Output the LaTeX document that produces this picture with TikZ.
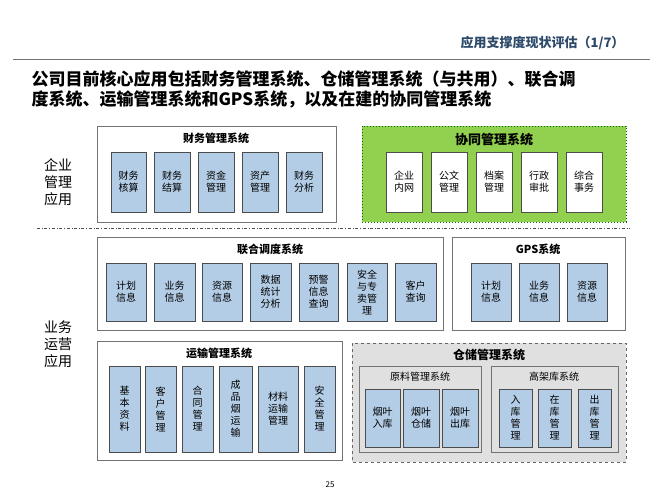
\documentclass[tikz,border=0pt]{standalone}
\usepackage{fontspec}
\setmainfont{Noto Sans CJK SC}
\begin{document}
\begin{tikzpicture}[x=1pt,y=-1pt,
 sub/.style={draw=black!70,fill=blue!25!cyan!15!white,fill=sb,line width=0.8pt,align=center,inner sep=0pt,font=\fontsize{10}{12}\selectfont},
 wsub/.style={draw=black!70,fill=white,line width=0.8pt,align=center,inner sep=0pt,font=\fontsize{10}{12}\selectfont},
 grp/.style={draw=black!55,line width=0.8pt,fill=white},
 ttl/.style={font=\bfseries\fontsize{11}{13}\selectfont},
 side/.style={align=center,font=\fontsize{14}{17}\selectfont}]
\definecolor{sb}{HTML}{B4CDE6}
\definecolor{hd}{HTML}{2E4A6B}
\definecolor{gg}{HTML}{92D050}
\useasboundingbox (0,0) rectangle (660,495);
\fill[white] (0,0) rectangle (660,495);
\node[anchor=east,text=hd,font=\itshape\bfseries\fontsize{13}{15}\selectfont] (hdr) at (628,43) {应用支撑度现状评估（1/7）};
\draw[black!55,line width=1pt] (13,59) -- (650,59);
\node[anchor=west,align=left,font=\bfseries\fontsize{17}{20}\selectfont] (title) at (28,89) {公司目前核心应用包括财务管理系统、仓储管理系统（与共用）、联合调\\度系统、运输管理系统和GPS系统，以及在建的协同管理系统};
\node[side] (l1) at (58,182) {企业\\管理\\应用};
\node[side] (l2) at (58,344) {业务\\运营\\应用};
\draw[black!70,dash dot,line width=1pt] (37,228) -- (630,228);
% finance
\draw[grp] (97,126) rectangle (336,222);
\node[ttl] (t1) at (216,138) {财务管理系统};
\foreach \a/\b/\t in {111/146/财务\\核算,154/190/财务\\结算,198/234/资金\\管理,242/278/资产\\管理,286/322/财务\\分析}
 \node[sub,minimum width=\b-\a,minimum height=60] at ({(\a+\b)/2},182) {\t};
% green
\draw[draw=green!40!black,dotted,line width=1pt,fill=gg] (362,126) rectangle (626,222);
\node[ttl,font=\bfseries\fontsize{13}{15}\selectfont] (t2) at (494,140) {协同管理系统};
\foreach \a/\b/\t in {386/422/企业\\内网,431/467/公文\\管理,476/512/档案\\管理,521/557/行政\\审批,566/602/综合\\事务}
 \node[wsub,minimum width=\b-\a,minimum height=60] at ({(\a+\b)/2},182) {\t};
% lianhe
\draw[grp] (97,237) rectangle (443,330);
\node[ttl] (t3) at (270,249) {联合调度系统};
\foreach \a/\b/\t in {106/146/计划\\信息,154/195/业务\\信息,202/242/资源\\信息,250/291/数据\\统计\\分析,299/338/预警\\信息\\查询,347/387/安全\\与专\\卖管\\理,395/436/客户\\查询}
 \node[sub,minimum width=\b-\a,minimum height=58] at ({(\a+\b)/2},292) {\t};
% GPS
\draw[grp] (452,237) rectangle (625,330);
\node[ttl] (t4) at (538,249) {GPS系统};
\foreach \a/\b/\t in {471/511/计划\\信息,519/559/业务\\信息,567/607/资源\\信息}
 \node[sub,minimum width=\b-\a,minimum height=58] at ({(\a+\b)/2},292) {\t};
% yunshu
\draw[grp] (97,341) rectangle (342,460);
\node[ttl] (t5) at (219,353) {运输管理系统};
\foreach \a/\b/\t in {109/140/基\\本\\资\\料,145/176/客\\户\\管\\理,182/213/合\\同\\管\\理,219/252/成\\品\\烟\\运\\输,258/298/材料\\运输\\管理,304/335/安\\全\\管\\理}
 \node[sub,minimum width=\b-\a,minimum height=86] at ({(\a+\b)/2},409) {\t};
% cangchu
\draw[black!60,dashed,line width=0.8pt,fill=black!12] (352,343) rectangle (626,462);
\node[ttl,font=\bfseries\fontsize{12}{14}\selectfont] (t6) at (489,355) {仓储管理系统};
\draw[grp,fill=black!12] (359,366) rectangle (481,452);
\node[font=\fontsize{10}{12}\selectfont] (t7) at (420,377) {原料管理系统};
\draw[grp,fill=black!12] (491,366) rectangle (618,452);
\node[font=\fontsize{10}{12}\selectfont] (t8) at (554,377) {高架库系统};
\foreach \a/\b/\t in {365/400/烟叶\\入库,403/439/烟叶\\仓储,442/478/烟叶\\出库,499/532/入\\库\\管\\理,538/571/在\\库\\管\\理,578/611/出\\库\\管\\理}
 \node[sub,minimum width=\b-\a,minimum height=58] at ({(\a+\b)/2},418) {\t};
\node[font=\fontsize{8}{10}\selectfont] (pg) at (330,485) {25};
\end{tikzpicture}
\end{document}
